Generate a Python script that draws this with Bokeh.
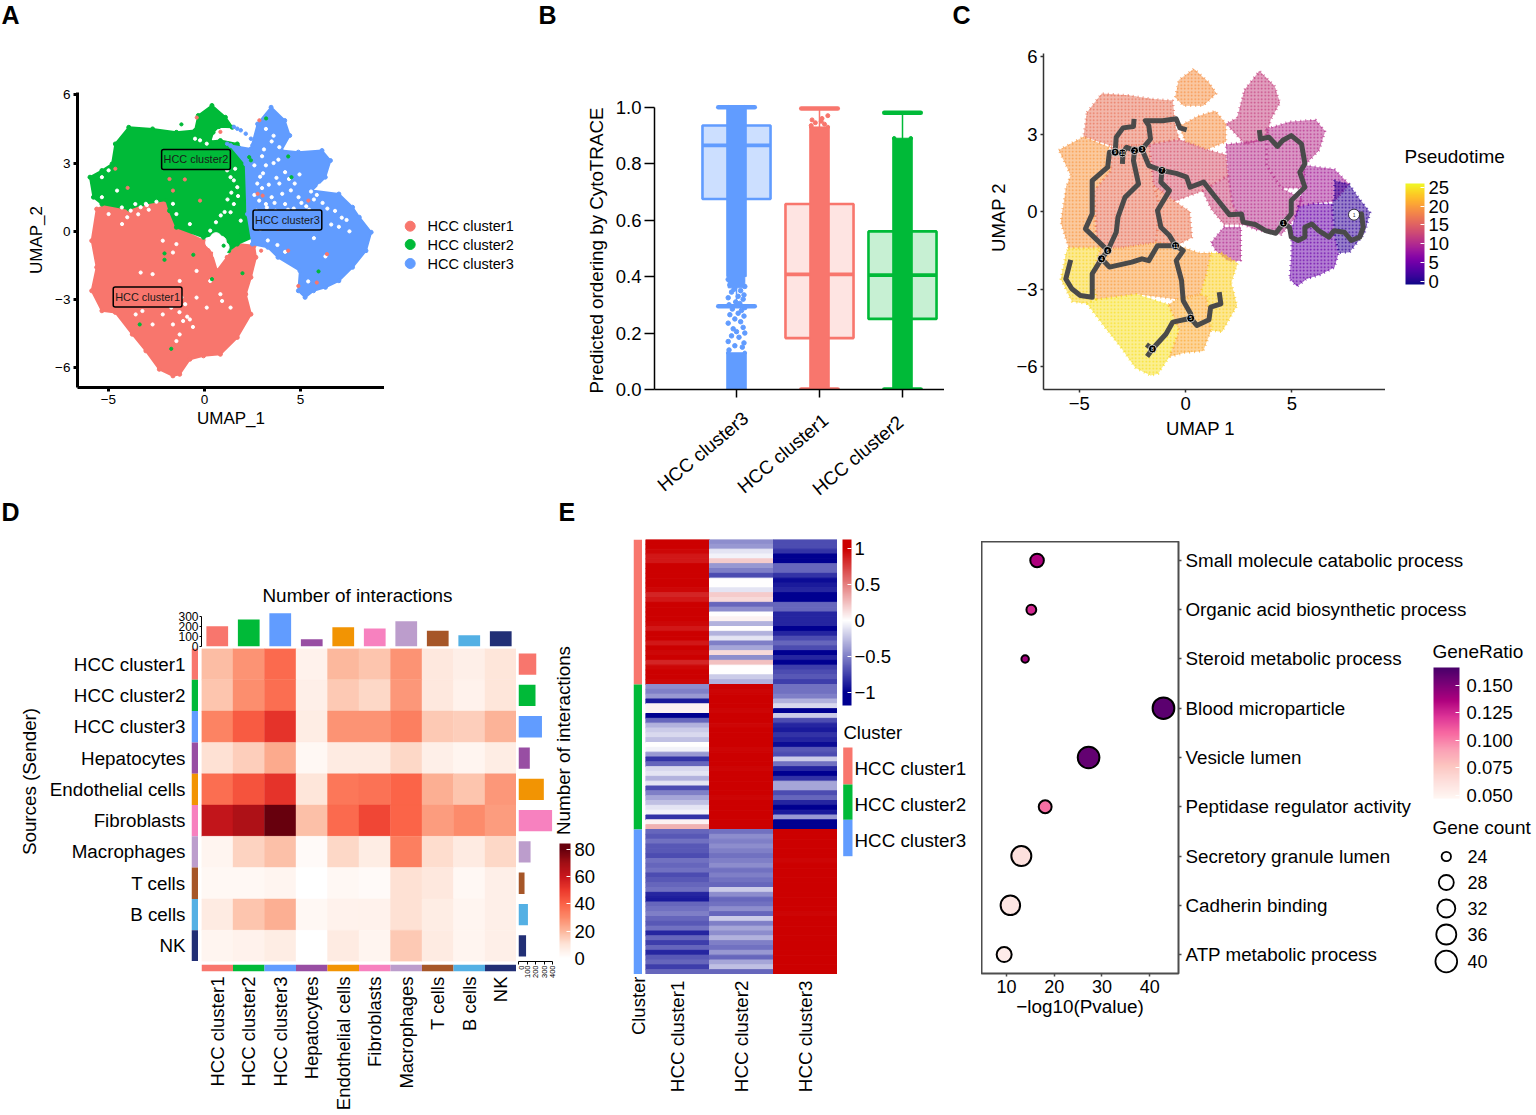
import numpy as np
from bokeh.embed import file_html
from bokeh.resources import INLINE
from bokeh.plotting import figure
from bokeh.models import (Range1d, FactorRange, FixedTicker, LinearColorMapper, ColorBar, GridBox)
from bokeh.core.properties import value
from bokeh.palettes import Plasma256, RdPu9

FONT = "Liberation Sans"
RED, GREEN, BLUE = "#F8766D", "#00BA38", "#619CFF"

# ---------- Panel A: UMAP outlines of the clusters (UMAP units)
red_x = [-5.61,-4.81,-3.05,-1.99,-1.82,-1.46,-0.76,-0.05,0.39,0.65,1.18,1.71,2.59,2.68,2.42,2.15,2.42,1.71,0.83,-0.05,-0.76,-1.29,-1.64,-2.35,-3.05,-3.76,-4.64,-5.34,-5.87,-5.61,-5.87]
red_y = [0.98,1.28,1.35,1.38,0.76,0.18,-0.12,-0.41,-1.0,-1.73,-1.14,-0.56,-0.63,-1.14,-2.02,-2.76,-3.64,-4.66,-5.40,-5.47,-5.62,-6.28,-6.35,-6.06,-5.25,-4.52,-3.56,-3.49,-2.61,-1.58,-0.41]
green_x = [-5.96,-5.34,-4.81,-4.64,-3.94,-2.70,-1.46,-0.49,-0.32,0.39,1.09,1.45,0.75,0.45,0.3,0.83,1.71,2.15,2.15,2.15,2.50,1.71,1.27,0.7,-0.05,-1.46,-1.82,-1.99,-3.23,-3.94,-5.34,-5.78]
green_y = [2.38,2.67,2.96,3.84,4.57,4.50,4.35,4.43,5.09,5.53,5.01,4.57,4.6,4.35,3.95,3.99,3.84,3.40,1.94,0.76,-0.26,-0.56,-0.85,-0.1,-0.26,0.18,0.91,1.38,1.2,0.98,1.20,1.5]
blue_x = [1.36,2.42,2.77,3.47,4.18,4.44,4.0,4.89,6.12,6.56,6.29,5.59,7.0,7.71,8.06,8.68,8.41,7.71,7.0,6.3,5.68,5.24,4.89,4.97,3.83,3.3,2.5,2.24,2.15]
blue_y = [3.77,3.62,4.72,5.45,4.87,4.21,3.55,3.48,3.55,3.11,2.38,1.79,1.64,1.06,0.62,-0.04,-0.85,-1.58,-2.17,-2.46,-2.61,-2.90,-2.61,-1.73,-1.14,-0.7,-0.56,0.76,2.96]
# small empty gaps seen inside the clouds
gap_x = [-4.02,-3.84,-3.32,-4.29,-2.17,-1.46,-1.64,-3.32,-2.7,-1.29,0.92,0.83,-3.58,-3.23,-2.17,-1.64,-1.11,-0.76,-1.29,-1.46,0.12,1.36,0.3,-0.41,-4.99,-1.73,-2.7,-0.41,
         1.36,1.53,1.18,1.71,1.53,1.36,1.89,-1.64,-1.46,-0.76,-5.34,-4.99,-4.55,-3.05,-5.34,-0.23,0.12,0.65,-0.49,0.3,
         2.6,2.9,3.2,3.6,3.0,2.6,3.5,3.9,4.2,4.5,4.2,3.7,3.2,4.9,5.3,5.7,5.2,6.4,6.8,7.0,7.4,3.3,3.8,4.2,2.9,3.0,3.9,3.6,3.2,5.7,6.3,5.4,4.7,6.0,
         2.75,3.05,3.35,3.75,4.05,2.85,3.25,3.65,4.35,4.75,5.05,5.45,5.85,6.15,3.45,3.95,4.65,4.95,5.55,3.1,3.5,2.7,2.95,3.85,4.4,6.6,7.15,7.55,
         -4.3,-3.6,-3.0,-2.5,-2.9,-3.45,-1.2,-1.0,-1.3,-0.9,-0.6,1.6,1.75,1.4,1.2,1.05,0.85,0.6]
gap_y = [0.62,0.91,1.06,0.32,-0.41,-0.56,-0.93,-1.81,-1.88,-2.18,-3.06,-2.76,-3.65,-3.5,-3.65,-4.09,-3.94,-3.87,-4.53,-4.82,-3.35,-3.35,-2.18,-1.74,0.76,-3.35,-4.09,-2.91,
         2.38,2.24,2.68,1.94,1.2,0.84,0.47,1.21,0.76,0.32,2.38,2.68,1.79,1.21,1.5,4.0,3.85,4.15,4.07,0.03,
         2.9,2.4,2.9,3.0,1.9,1.6,1.5,2.1,2.6,1.8,1.2,0.9,1.2,1.5,1.1,1.4,0.7,1.0,0.9,0.2,0.5,-0.4,-0.6,-0.9,0.1,3.3,3.7,4.2,4.5,-0.3,-1.1,-2.2,2.1,2.0,
         2.1,2.55,2.05,2.35,1.65,1.35,1.05,1.25,0.95,0.6,1.25,0.95,1.6,1.25,0.55,0.4,1.0,2.5,1.75,3.6,3.95,0.9,0.45,3.15,2.3,0.3,0.6,0.0,
         1.05,1.2,1.15,1.3,0.95,0.75,-2.9,-3.2,-3.55,-3.75,-4.2,2.75,1.55,1.7,1.4,0.85,0.7,0.4]
big_gap_x = [0.65,0.6,0.85,0.75,1.0,0.35]
big_gap_y = [-0.7,-0.3,-0.45,-1.0,-0.7,-0.5]
stray_red_x = [-1.82,-1.02,-1.64,-0.23,-4.64,-4,-0.4,0.83,2.86,2.77,3.03,5.41,6.38,5.85,4.89,3.83,4.36,2.95]
stray_red_y = [2.3,2.28,1.79,1.35,2.75,1.91,5.0,4.37,4.88,1.65,1.57,1.35,-1,-2.25,-2.4,0.1,-0.85,-0.85]
stray_green_x = [-2.08,-2.08,-0.58,1.98,0.39,-1.73,-3.37,-1.2,4.53,4.36,2.33,2.42,3.21,5.94,1,1.36,1.89,2.15]
stray_green_y = [-0.97,-1.25,-1.03,-1.84,-2.1,-5.16,-4.09,4.7,2.38,3.29,3.26,3.12,4.96,-1.76,-0.63,-0.41,-0.12,0.03]
stray_blue_x = [1.53,1.89,2.15,2.42,2.5,1.71,1.18]
stray_blue_y = [4.59,4.44,4.29,4.07,3.78,4.51,3.85]
cluster_names = ["HCC cluster1", "HCC cluster2", "HCC cluster3"]
cluster_label_x = [-2.96, -0.44, 4.32]
cluster_label_y = [-2.88, 3.16, 0.5]

# ---------- Panel B: CytoTRACE boxes
order_b = ["HCC cluster3", "HCC cluster1", "HCC cluster2"]
b_q1 = [0.675, 0.182, 0.25]
b_med = [0.865, 0.408, 0.405]
b_q3 = [0.935, 0.657, 0.56]
b_whisk_lo = [0.295, 0.0, 0.0]
b_whisk_hi = [1.0, 0.995, 0.98]
b_dense_lo = [[0.0, 0.40], [0.0], [0.0]]
b_dense_hi = [[0.13, 1.0], [0.93], [0.89]]
b_sparse_y3 = [0.14,0.15,0.155,0.165,0.17,0.185,0.19,0.2,0.205,0.215,0.22,0.235,0.24,0.25,0.26,0.265,0.27,0.28,0.285,0.29,0.3,0.305,0.31,0.32,0.325,0.33,0.335,0.345,0.35,0.355,0.365,0.37,0.375,0.385,0.39]
b_sparse_dx3 = [-0.09,0.07,-0.02,0.09,-0.1,0.03,-0.06,0.1,0.0,-0.04,0.08,-0.1,0.05,-0.02,0.09,-0.08,0.02,0.06,-0.05,0.1,-0.09,0.04,-0.01,0.08,-0.1,0.02,0.09,-0.06,0.05,-0.03,0.1,-0.08,0.03,0.07,-0.1]
b_sparse_y1 = [0.935,0.94,0.945,0.95,0.955,0.96,0.97]
b_sparse_dx1 = [-0.1,0.06,-0.05,0.02,-0.09,0.03,0.1]

zones = [
 (19,[-0.49,-0.32,0.39,1.09,1.45,0.83,-0.1],[4.43,5.09,5.53,5.01,4.57,4.1,4.1]),
 (19,[0.6,1.4,1.9,1.9,1.0,0.0,-0.3],[3.7,3.9,3.4,2.7,2.4,2.7,3.3]),
 (16.5,[-4.64,-3.94,-2.7,-1.46,-0.6,-0.5,-0.3,-1.7,-3.3,-4.8],[3.84,4.57,4.5,4.35,4.3,3.4,2.8,2.6,2.5,2.9]),
 (19.5,[-5.96,-4.8,-3.6,-3.5,-4.3,-4.2,-4,-5.5,-5.87,-5.61,-5.4],[2.38,2.9,2.5,1.6,0.8,-0.9,-1.4,-1.4,-0.41,0.98,1.4]),
 (16.5,[-3.5,-1.7,-1.5,-1.2,-1.4,-3.0,-4.0,-4.2,-4.3,-3.5],[2.5,2.6,1.0,0.2,-1.2,-1.4,-1.4,-0.9,0.8,1.6]),
 (14,[-1.7,-0.3,1.0,1.9,2.0,0.8,-0.5,-1.5],[2.6,2.8,2.4,2.2,1.4,0.8,0.4,1.0]),
 (17,[-1.5,-0.5,0.2,0.3,-0.4,-1.4,-1.2],[1,0.4,0,-1.0,-1.3,-1.2,0.2]),
 (10,[1.2,1.8,2.6,2.6,2.0,1.4],[-1.2,-0.6,-0.6,-1.9,-1.9,-1.5]),
 (12.5,[0.8,2,2.2,2.7,1.8,1.2],[0.8,1.4,0.3,-0.5,-0.5,0.1]),
 (20,[-4.0,-3,-1.4,-0.4,0.65,1.2,1.0,0.7,-0.4,-2.3,-4.2,-4.4],[-1.4,-1.4,-1.2,-1.3,-1.6,-1.6,-2.4,-3.2,-3.4,-3.2,-3.4,-2.4]),
 (24,[-5.5,-4,-4.4,-4.2,-4.64,-5.34,-5.87,-5.61],[-1.4,-1.4,-2.4,-3.4,-3.56,-3.49,-2.61,-1.58]),
 (24.5,[-4.2,-2.3,-0.8,-0.3,-0.76,-1.29,-1.64,-2.35,-3.05,-3.76,-4.64],[-3.4,-3.2,-3.6,-4.6,-5.62,-6.28,-6.35,-6.06,-5.25,-4.52,-3.56]),
 (21,[-0.8,-0.4,0.7,1.0,1.2,0.83,-0.05,-0.76,-0.3],[-3.6,-3.4,-3.2,-3.3,-4.6,-5.4,-5.47,-5.62,-4.6]),
 (23.5,[1.2,1.71,2.45,2.15,2.42,1.71,1.2,1.0,0.7,1.0],[-1.6,-1.6,-2.0,-2.76,-3.64,-4.66,-4.6,-3.3,-3.2,-2.4]),
 (12,[2.77,3.47,4.18,4.44,4,3.8,2.8,1.9,2.42],[4.72,5.45,4.87,4.21,3.55,2.8,2.6,3.4,3.62]),
 (10.5,[3.8,4.9,6.12,6.56,6.29,5.6,5.6,4.5,3.8],[3.2,3.48,3.55,3.11,2.38,1.79,0.9,0.9,1.8]),
 (10.5,[1.9,3.8,3.8,4.5,5.5,5.2,4.5,3.3,2.7,2.2,2],[2.6,2.8,1.8,0.9,0.5,-0.2,-0.9,-0.7,-0.5,0.3,1.4]),
 (9,[5.6,7,7.7,7.0,6,5.3,5.5],[1.79,1.64,1.06,0.4,0.3,0.2,0.9]),
 (4.5,[5.3,6,6.9,7,7.2,7,6.3,5.68,5.24,4.89,4.97,5],[0.2,0.3,0.3,-0.9,-1.6,-2.17,-2.46,-2.61,-2.9,-2.61,-1.73,-0.6]),
 (1,[7.0,7.7,8.06,8.68,8.41,7.71,7.2,7,6.9,7.0],[1.2,1.06,0.62,-0.04,-0.85,-1.58,-1.6,-0.9,0.3,0.6]),
]
traj_x = [
 [7.92,8.27,8.35,8.19,7.79,7.47,6.98,6.74,6.26,5.94,5.61,5.61,5.29,4.97,4.89,4.60],
 [4.60,4.97,4.97,5.61,5.37,5.61,5.45,4.97,4.56,4.32,3.92,3.52,3.47],
 [4.60,4.24,3.76,3.27,2.71,2.63,2.06,1.34,0.85,0.21,0.05,-0.44,-1.11,-1.73,-2.05],
 [-2.05,-1.65,-1.73,-1.89,-1.08,-0.44,-0.27,0.05],
 [-2.05,-2.40,-2.77,-2.94,-2.97],
 [-2.40,-2.45,-2.21,-2.85,-3.18,-3.26,-3.66,-3.95,-4.39,-4.39,-4.95,-5.35,-5.63,-5.40],
 [-3.95,-3.58,-2.53,-2.05,-1.73,-1.32,-0.47],
 [-3.66,-4.71,-4.39,-4.39,-3.66,-3.58,-3.31,-3.26,-2.94,-2.45,-2.42],
 [-1.11,-1.16,-0.76,-1.32,-1.16,-0.76,-0.47,-0.11,-0.44,-0.19,-0.11,0.24,0.24,0.53,1.10,1.18,1.66,1.58],
 [0.24,-0.60,-0.92,-1.56,-1.81],
 [-1.84,-1.56],
]
traj_y = [
 [-0.12,-0.09,-0.61,-0.99,-1.12,-0.80,-0.74,-0.99,-0.74,-0.48,-0.61,-0.99,-1.12,-0.99,-0.61,-0.45],
 [-0.45,-0.09,0.43,0.94,1.52,1.85,2.62,2.94,2.75,2.52,2.88,2.81,3.16],
 [-0.45,-0.84,-0.74,-0.50,-0.41,-0.09,-0.12,0.62,1.14,0.94,1.33,1.48,1.59,1.78,2.41],
 [2.41,2.81,3.33,3.52,3.52,3.59,3.24,3.16],
 [2.41,2.36,2.49,2.30,1.85],
 [2.36,1.97,1.07,0.55,-0.22,-0.80,-1.51,-1.83,-2.41,-3.32,-3.25,-2.99,-2.61,-1.87],
 [-1.83,-2.15,-1.96,-1.83,-1.90,-1.32,-1.32],
 [-1.51,-0.67,-0.09,1.20,1.72,2.30,2.30,2.88,3.24,3.29,3.59],
 [1.59,1.14,0.81,0.04,-0.61,-0.93,-1.32,-1.51,-1.90,-2.67,-3.45,-3.96,-4.13,-4.41,-4.19,-3.70,-3.57,-3.12],
 [-4.13,-4.28,-4.74,-5.32,-5.61],
 [-5.15,-5.32],
]
node_x = [4.60,-1.11,-2.05,-2.40,-2.97,-3.31,-3.66,-3.95,-0.47,0.24,-1.56]
node_y = [-0.45,1.59,2.41,2.36,2.27,2.30,-1.51,-1.83,-1.32,-4.13,-5.32]
node_lab = ["1","7","3","2","10","9","6","4","11","5","8"]
root_x, root_y = [7.92], [-0.12]

# ---------- Panel D: interaction counts
cell_types = ["HCC cluster1","HCC cluster2","HCC cluster3","Hepatocytes","Endothelial cells","Fibroblasts","Macrophages","T cells","B cells","NK"]
cell_colors = [RED, GREEN, BLUE, "#984EA3", "#F29403", "#F781BF", "#BC9DCC", "#A65628", "#54B0E4", "#222F75"]
interactions = [
 [19,28,38,5,20,17,28,9,6,10],
 [17,29,37,6,16,13,27,9,5,10],
 [32,42,52,7,28,28,33,16,15,21],
 [11,15,23,3,8,8,13,6,4,7],
 [37,44,52,10,35,36,40,22,17,27],
 [62,67,80,18,38,47,40,26,30,26],
 [4,14,18,2,13,7,33,12,8,13],
 [3,3,4,0,3,2,11,9,3,6],
 [8,17,22,3,5,5,11,7,4,6],
 [4,5,7,0,8,4,16,8,4,6],
]
incoming = [200,267,330,72,191,178,250,155,112,151]
outgoing = [209,200,276,133,298,396,142,71,111,89]

# ---------- Panel E left: scaled expression, 30 rows per cluster
e_c1 = [1,1,.97,.9,.9,1,1,1,1,1,.97,.85,.9,1,1,1,1,.97,.9,1,1,.9,1,.97,1,.85,.97,1,1,.97,
        -.45,-.5,-.4,-.9,.05,.05,-1,-.6,-.3,-.2,-.15,-.25,0,-.05,-.4,-.8,-.6,-.15,-.1,-.3,-.1,-.7,-.5,-.35,-.25,-.1,-.05,-.8,.05,.3,
        -.6,-.65,-.55,-.65,-.65,-.7,-.55,-.6,-.55,-.7,-.65,-.6,-.55,-.85,-.9,-.6,-.55,-.5,-.6,-.65,-.55,-.85,-.6,-.75,-.6,-.85,-.65,-.6,-.75,-.6]
e_c2 = [-.45,-.4,-.1,-.05,.2,-.4,-.5,-.7,0,0,-.1,.2,.15,-.6,-.45,0,.05,-.3,0,-.3,-.1,-.5,-.35,.15,-.45,.25,0,0,-.2,-.3,
        1,.98,1,1,1,.98,1,1,.98,1,1,1,1,.98,1,1,1,.98,1,1,1,1,1,.98,1,1,1,1,1,1,
        -.55,-.45,-.5,-.45,-.5,-.55,-.5,-.45,-.55,-.5,-.55,-.6,-.2,-.45,-.6,-.55,-.45,-.6,-.2,-.5,-.35,-.45,-.3,-.5,-.55,-.4,-.6,-.35,-.25,-.6]
e_c3 = [-.7,-.7,-.8,-1,-1,-.6,-.6,-.8,-.95,-.9,-.85,-1,-1,-.6,-.6,-.85,-.85,-.85,-1,-.85,-.7,-.6,-.7,-1,-.85,-1.05,-.75,-.7,-.65,-.75,
        -.55,-.55,-.5,-.3,-.15,-1.05,-.2,-.7,-.85,-.9,-.8,-.85,-.95,-.65,-.7,-.2,-.55,-.85,-1,-.8,-.35,-.35,-.7,-.6,-.85,-1,-.9,-.4,-1,-1.1,
        1,1,1,1,1,1,.98,1,1,1,1,1,1,1,1,1,1,.98,1,1,1,1,1,1,1,1,1,1,1,1]

# ---------- Panel E right: enrichment
terms = ["Small molecule catabolic process","Organic acid biosynthetic process","Steroid metabolic process","Blood microparticle","Vesicle lumen","Peptidase regulator activity","Secretory granule lumen","Cadherin binding","ATP metabolic process"]
log_p = [16.4,15.2,13.9,42.9,27.2,18.1,13.1,10.8,9.5]
gene_ratio = [.136,.125,.14,.16,.158,.105,.062,.058,.054]
gene_count = [27,24.3,23,40,40,26.5,36,35,28]
count_legend = [24,28,32,36,40]


def to_hex(rgb):
    return "#%02x%02x%02x" % tuple(int(round(c)) for c in rgb)

def ramp(stops, positions=None, n=256):
    rgb = np.array([[int(s[i:i+2], 16) for i in (1, 3, 5)] for s in stops], float)
    pos = np.linspace(0, 1, len(stops)) if positions is None else positions
    t = np.linspace(0, 1, n)
    return [to_hex([np.interp(v, pos, rgb[:, k]) for k in range(3)]) for v in t]

d_lo, d_hi = -3.7, 84.4
reds = ramp(["#ffffff", "#ffffff", "#fee5d9", "#fcb79c", "#fc8a6a", "#fb6347", "#ec3a2d", "#c9171d", "#a30f15", "#67000d", "#67000d"],
            [(v - d_lo) / (d_hi - d_lo) for v in [d_lo, 0, 10, 20, 30, 40, 50, 60, 70, 80, d_hi]])
rdpu = ramp(list(RdPu9)[::-1])
e_lo, e_hi = -1.18, 1.125
bwr = ramp(["#000090", "#000090", "#ffffff", "#cc0000", "#cc0000"],
           [0, (-1 - e_lo) / (e_hi - e_lo), (0 - e_lo) / (e_hi - e_lo), (1 - e_lo) / (e_hi - e_lo), 1])

placed = []

def panel(x0, y0, x1, y1, l=0, r=0, t=0, b=0, **kw):
    """Figure whose frame sits at page pixels x0..x1, y0..y1 (grid tracks are built from these)."""
    X0, X1 = int(round(x0)) - l, int(round(x1)) + r
    Y0, Y1 = int(round(y0)) - t, int(round(y1)) + b
    f = figure(title=None, width=X1 - X0, height=Y1 - Y0, output_backend="svg",
               toolbar_location=None, min_border_left=l, min_border_right=r, min_border_top=t,
               min_border_bottom=b, background_fill_alpha=0, border_fill_alpha=0,
               outline_line_color=None, tools="", **kw)
    f.grid.visible = False
    placed.append((f, X0, Y0, X1, Y1))
    return f

def style_axis(ax, size, lw=1.5, color="#000000", tick_out=4, standoff=3):
    ax.axis_line_width = lw
    ax.axis_line_color = color
    ax.major_tick_line_width = lw
    ax.major_tick_line_color = color
    ax.major_tick_out = tick_out
    ax.major_tick_in = 0
    ax.minor_tick_line_color = None
    ax.major_label_text_font = FONT
    ax.major_label_text_font_size = size
    ax.major_label_text_color = "#000000"
    ax.major_label_standoff = standoff
    ax.axis_label_text_font = FONT
    ax.axis_label_text_font_style = "normal"
    ax.axis_label_text_color = "#000000"

def hide_axes(f):
    f.xaxis.visible = False
    f.yaxis.visible = False

# -------------------------------------------------- A
pA = panel(77, 92, 384, 387, l=60, t=12, b=60, x_range=Range1d(-6.61, 9.375), y_range=Range1d(-6.86, 6.1))
for xs, ys, c in [(red_x, red_y, RED), (green_x, green_y, GREEN), (blue_x, blue_y, BLUE)]:
    pA.patch(xs, ys, fill_color=c, line_color=c, line_width=2)
    pA.scatter(xs, ys, size=4, color=c)
pA.scatter(gap_x, gap_y, size=3.2, color="white")
pA.scatter(big_gap_x, big_gap_y, size=11, color="white")
pA.scatter(stray_blue_x, stray_blue_y, size=3.5, color=BLUE)
pA.scatter(stray_red_x, stray_red_y, size=3.2, color=RED)
pA.scatter(stray_green_x, stray_green_y, size=3.2, color=GREEN)
pA.text(cluster_label_x, cluster_label_y, text=cluster_names, text_font=value(FONT), text_font_size="10.9px",
        text_align="center", text_baseline="middle", text_color="#1a1a1a",
        background_fill_color=[RED, GREEN, BLUE], border_line_color="black", border_line_width=1.5,
        padding=(2, 4), border_radius=2)
pA.xaxis.ticker = FixedTicker(ticks=[-5, 0, 5])
pA.yaxis.ticker = FixedTicker(ticks=[-6, -3, 0, 3, 6])
style_axis(pA.xaxis[0], "13.5px", lw=3, tick_out=4)
style_axis(pA.yaxis[0], "13.5px", lw=3, tick_out=4)
pA.xaxis.axis_label = "UMAP_1"
pA.yaxis.axis_label = "UMAP_2"
pA.xaxis.axis_label_text_font_size = "17px"
pA.yaxis.axis_label_text_font_size = "17px"
pA.xaxis.axis_label_standoff = 2
pA.yaxis.axis_label_standoff = 6

# -------------------------------------------------- B
pB = panel(654, 100, 944, 389, l=70, t=12, b=30, x_range=Range1d(0.012, 3.506), y_range=Range1d(0, 1.0237))
cols_b = [BLUE, RED, GREEN]
xb = [1, 2, 3]
pB.quad(left=[v - 0.41 for v in xb], right=[v + 0.41 for v in xb], bottom=b_q1, top=b_q3,
        fill_color=cols_b, fill_alpha=[0.32, 0.2, 0.22], line_color=cols_b, line_width=2.6)
pB.segment([v - 0.41 for v in xb], b_med, [v + 0.41 for v in xb], b_med, line_color=cols_b, line_width=3.8)
pB.segment(xb, b_whisk_lo, xb, b_whisk_hi, line_color=cols_b, line_width=1.5)
for i, v in enumerate(xb):
    for lo, hi in zip(b_dense_lo[i], b_dense_hi[i]):
        pB.vbar(x=v, bottom=lo, top=hi, width=0.235, color=cols_b[i])
        pB.scatter([v - 0.1, v + 0.1], [hi, hi], size=3.5, color=cols_b[i])
pB.scatter([1 + d for d in b_sparse_dx3], b_sparse_y3, size=4.5, color=BLUE)
pB.scatter([2 + d for d in b_sparse_dx1], b_sparse_y1, size=4, color=RED)
pB.vbar(x=1, bottom=0.36, top=0.42, width=0.2, color=BLUE)
for lo_hi in (b_whisk_lo, b_whisk_hi):
    pB.segment([v - 0.22 for v in xb], lo_hi, [v + 0.22 for v in xb], lo_hi, line_color=cols_b,
               line_width=4.5, line_cap="round")
pB.xaxis.ticker = FixedTicker(ticks=xb)
pB.xaxis.major_label_overrides = {v: "" for v in xb}   # the slanted labels are placed below, as in the reference
pB.yaxis.ticker = FixedTicker(ticks=[0, .2, .4, .6, .8, 1.0])
pB.yaxis.major_label_overrides = {0: "0.0", 1: "1.0"}
pB.yaxis.bounds = (0, 1)
style_axis(pB.xaxis[0], "12px", lw=1.5, tick_out=8, standoff=0)
style_axis(pB.yaxis[0], "18.5px", lw=1.5, tick_out=10, standoff=3)

# -------------------------------------------------- C
pC = panel(1043, 53, 1385, 389, l=60, t=12, b=60, x_range=Range1d(-6.68, 9.40), y_range=Range1d(-6.89, 6.12))
plasma = LinearColorMapper(palette=Plasma256, low=-0.8, high=26.0)
zone_cols = [Plasma256[int((z[0] + 0.8) / 26.8 * 255)] for z in zones]
pC.patches([z[1] for z in zones], [z[2] for z in zones], fill_color=zone_cols, fill_alpha=0.5,
           line_color=zone_cols, line_alpha=0.7, line_width=2.5, line_dash="1 4",
           hatch_pattern="dot", hatch_color=zone_cols, hatch_scale=3.5, hatch_weight=1.4, hatch_alpha=0.9)
for xs, ys in zip(traj_x, traj_y):
    pC.line(xs, ys, line_color="#4a4a4a", line_width=5, line_join="round", line_cap="butt")
pC.scatter(node_x, node_y, size=8, fill_color="black", line_color="white", line_width=0.7)
pC.text(node_x, node_y, text=node_lab, text_font=value(FONT), text_font_size="5px", text_color="white",
        text_align="center", text_baseline="middle")
pC.scatter(root_x, root_y, size=11, fill_color="white", line_color="black", line_width=0.7)
pC.text(root_x, root_y, text=["1"], text_font=value(FONT), text_font_size="5px", text_color="#333333",
        text_align="center", text_baseline="middle")
pC.xaxis.ticker = FixedTicker(ticks=[-5, 0, 5])
pC.yaxis.ticker = FixedTicker(ticks=[-6, -3, 0, 3, 6])
style_axis(pC.xaxis[0], "18.5px", lw=1.5, color="#333333", tick_out=3, standoff=4)
style_axis(pC.yaxis[0], "18.5px", lw=1.5, color="#333333", tick_out=3, standoff=3)

# -------------------------------------------------- D
heat_x, heat_y, heat_v = [], [], []
for r_i, row in enumerate(interactions):
    for c_i, v in enumerate(row):
        heat_x.append(cell_types[c_i]); heat_y.append(cell_types[r_i]); heat_v.append(v)
reds_map = LinearColorMapper(palette=reds, low=d_lo, high=d_hi)
pD = panel(201, 648, 516, 961, l=190, b=153,
           x_range=FactorRange(factors=cell_types), y_range=FactorRange(factors=cell_types[::-1]))
src_fill = {"field": "v", "transform": reds_map}
pD.rect(x="x", y="y", width=1, height=1, source={"x": heat_x, "y": heat_y, "v": heat_v},
        fill_color=src_fill, line_color=src_fill, line_width=0.4)
style_axis(pD.xaxis[0], "18.5px", lw=0, tick_out=0, standoff=15)
style_axis(pD.yaxis[0], "18.8px", lw=0, tick_out=0, standoff=16)
pD.xaxis.major_label_orientation = np.pi / 2
pD.xaxis.axis_line_color = None
pD.yaxis.axis_line_color = None
pD.xaxis.major_tick_line_color = None
pD.yaxis.major_tick_line_color = None

sL = panel(191, 648, 198, 961, x_range=Range1d(0, 1), y_range=FactorRange(factors=cell_types[::-1]))
sL.rect(x=[0.5] * 10, y=cell_types, width=1, height=1, fill_color=cell_colors, line_color=None)
hide_axes(sL)
cell_idx = list(range(len(cell_types)))
sB = panel(201, 964, 516, 971, t=6, b=6, x_range=Range1d(0, 10), y_range=Range1d(0, 1))
sB.quad(left=cell_idx, right=[i + 1 for i in cell_idx], bottom=0, top=1, fill_color=cell_colors, line_color=None)
hide_axes(sB)

tB = panel(201, 612, 516, 646, l=40, t=8, b=8, x_range=FactorRange(factors=cell_types), y_range=Range1d(0, 337))
tB.vbar(x=cell_types, top=incoming, width=0.69, fill_color=cell_colors, line_color=None)
tB.xaxis.visible = False
tB.yaxis.ticker = FixedTicker(ticks=[0, 100, 200, 300])
tB.yaxis.bounds = (0, 300)
style_axis(tB.yaxis[0], "12px", lw=1, tick_out=2, standoff=1)

rB = panel(518, 648, 552, 961, r=6, b=30, x_range=Range1d(0, 400), y_range=FactorRange(factors=cell_types[::-1]))
rB.hbar(y=cell_types, right=outgoing, height=0.68, fill_color=cell_colors, line_color=None)
rB.yaxis.visible = False
rB.xaxis.ticker = FixedTicker(ticks=[0, 100, 200, 300, 400])
rB.xaxis.major_label_orientation = np.pi / 2
style_axis(rB.xaxis[0], "7.5px", lw=1, tick_out=3, standoff=1)

def colorbar(x0, y0, w, h, mapper, ticks, size="18.5px", overrides=None, standoff=4):
    f = panel(x0, y0 - 6, x0 + w + 70, y0 + h + 8, x_range=Range1d(0, 1), y_range=Range1d(0, 1))
    hide_axes(f)
    cb = ColorBar(color_mapper=mapper, ticker=FixedTicker(ticks=ticks), width=int(round(w)), height=int(round(h)),
                  location=(0, 8), margin=0, padding=0, bar_line_color=None, background_fill_alpha=0,
                  border_line_color=None, major_tick_line_color="white", major_tick_in=4, major_tick_out=0,
                  minor_tick_line_color=None, major_label_text_font=FONT, major_label_text_font_size=size,
                  major_label_text_color="black", label_standoff=standoff, major_label_overrides=overrides or {})
    f.add_layout(cb)
    return f

colorbar(559, 843, 11, 120, reds_map, [0, 20, 40, 60, 80])
colorbar(1405, 183, 19, 101, plasma, [0, 5, 10, 15, 20, 25])

# -------------------------------------------------- E heat
e_map = LinearColorMapper(palette=bwr, low=e_lo, high=e_hi)
n_rows = len(e_c1)
rows = list(range(n_rows))
pE = panel(645, 539, 837, 974, x_range=Range1d(0, 3), y_range=Range1d(n_rows - 0.5, -0.5))
for j, col in enumerate([e_c1, e_c2, e_c3]):
    fc = {"field": "v", "transform": e_map}
    pE.rect(x=j + 0.5, y="r", width=1, height=1, source={"r": rows, "v": col}, fill_color=fc, line_color=fc, line_width=1)
hide_axes(pE)
sE = panel(633, 539, 642, 974, x_range=Range1d(0, 1), y_range=Range1d(n_rows - 0.5, -0.5))
block_top = [-0.5, 29.5, 59.5]
block_bot = [29.5, 59.5, 89.5]
sE.quad(left=0, right=1, top=block_top, bottom=block_bot, fill_color=[RED, GREEN, BLUE], line_color=None)
hide_axes(sE)
colorbar(842, 539, 9, 166, e_map, [-1, -0.5, 0, 0.5, 1], overrides={1: "1", -1: "\u22121", 0: "0", -0.5: "\u22120.5", 0.5: "0.5"}, standoff=3)

# -------------------------------------------------- E dots
rp_map = LinearColorMapper(palette=rdpu, low=0.047, high=0.166)
pDot = panel(981, 541, 1178, 973, r=300, b=60, x_range=Range1d(4.75, 46.05), y_range=Range1d(-0.385, 8.385),
             y_axis_location="right")
yy = list(range(len(terms)))[::-1]
leg_sizes = [5.5, 9.4, 15, 18, 20, 21.7]
leg_counts = [22] + count_legend
size_of = lambda c: np.interp(c, leg_counts, leg_sizes)
pDot.scatter(x="x", y="y", size="s", source={"x": log_p, "y": yy, "s": [float(size_of(c)) for c in gene_count], "g": gene_ratio},
             fill_color={"field": "g", "transform": rp_map}, line_color="black", line_width=2)
pDot.outline_line_color = "#4d4d4d"
pDot.outline_line_width = 2
pDot.xaxis.ticker = FixedTicker(ticks=[10, 20, 30, 40])
pDot.yaxis.ticker = FixedTicker(ticks=yy)
pDot.yaxis.major_label_overrides = {y: t for y, t in zip(yy, terms)}
style_axis(pDot.xaxis[0], "18px", lw=0, color="#4d4d4d", tick_out=3, standoff=3)
style_axis(pDot.yaxis[0], "18.8px", lw=0, color="#4d4d4d", tick_out=3, standoff=4)
pDot.xaxis.axis_line_color = None
pDot.yaxis.axis_line_color = None
pDot.xaxis.major_tick_line_width = 1.5
pDot.yaxis.major_tick_line_width = 1.5
pDot.xaxis.axis_label = "\u2212log10(Pvalue)"
pDot.xaxis.axis_label_text_font_size = "18.9px"
pDot.xaxis.axis_label_standoff = 0
colorbar(1433, 667, 26, 131, rp_map, [0.05, 0.075, 0.1, 0.125, 0.15],
         overrides={0.05: "0.050", 0.075: "0.075", 0.1: "0.100", 0.125: "0.125", 0.15: "0.150"}, standoff=7)

# -------------------------------------------------- page-level texts and legends
T = panel(0, 0, 1536, 1115, x_range=Range1d(0, 1536), y_range=Range1d(1115, 0))
hide_axes(T)

def note(txt, x, y, size=18.5, align="left", angle=0, bold=False):
    T.text([x], [y], text=[txt], text_font=value(FONT), text_font_size=f"{size}px", text_align=align,
           text_baseline="middle", angle=angle, text_font_style="bold" if bold else "normal", text_color="black")

for letter, x, y in [("A", 1, 14), ("B", 538, 14), ("C", 952, 14), ("D", 1, 511), ("E", 558, 511)]:
    note(letter, x, y, size=25, bold=True)
for name, c, y in zip(cluster_names, [RED, GREEN, BLUE], [225.7, 244, 263]):
    T.scatter([409.7], [y], size=10, color=c)
    note(name, 427, y, size=14.5)
for name, x, y in zip(order_b, [745, 825, 900], [415, 417, 419]):
    note(name, x, y, size=18.8, align="right", angle=np.radians(40))
note("Predicted ordering by CytoTRACE", 596, 250, size=18.8, align="center", angle=np.pi / 2)
note("Pseudotime", 1404, 156, size=19)
note("UMAP 1", 1200, 428, size=18.5, align="center")
note("UMAP 2", 998, 217, size=18.5, align="center", angle=np.pi / 2)
note("Number of interactions", 357, 595, size=18.9, align="center")
note("Number of interactions", 563, 740, size=18.8, align="center", angle=np.pi / 2)
note("Sources (Sender)", 29, 781, size=18.8, align="center", angle=np.pi / 2)
note("Cluster", 843, 732, size=18.5)
for name, c, top, bot, y in zip(cluster_names, [RED, GREEN, BLUE], [747, 784, 819.3], [784, 819.3, 855.7], [768, 804, 840]):
    T.quad(left=[842.7], right=[852], top=[top], bottom=[bot], fill_color=c, line_color=None)
    note(name, 854, y, size=18.8)
note("Cluster", 638, 976, size=18.5, align="right", angle=np.pi / 2)
for name, x in zip(cluster_names, [677, 741, 805]):
    note(name, x, 980, size=18.8, align="right", angle=np.pi / 2)
note("GeneRatio", 1432, 651, size=19)
note("Gene count", 1432, 827, size=19)
for c, y in zip(count_legend, [856, 882, 908, 934, 961]):
    T.scatter([1445.8], [y], size=float(size_of(c)), fill_color="white", line_color="black", line_width=1.8)
    note(str(c), 1467, y, size=18)

# place every figure on a pixel grid whose tracks come from the figures' own edges
xs_cut = sorted({v for _, a, _, b, _ in placed for v in (a, b)})
ys_cut = sorted({v for _, _, a, _, b in placed for v in (a, b)})
children = [(f, ys_cut.index(Y0), xs_cut.index(X0), ys_cut.index(Y1) - ys_cut.index(Y0), xs_cut.index(X1) - xs_cut.index(X0))
            for f, X0, Y0, X1, Y1 in placed]
page = GridBox(children=children, cols=[f"{b - a}px" for a, b in zip(xs_cut, xs_cut[1:])],
               rows=[f"{b - a}px" for a, b in zip(ys_cut, ys_cut[1:])], spacing=0)
open("out.html", "w").write(file_html(page, INLINE))
